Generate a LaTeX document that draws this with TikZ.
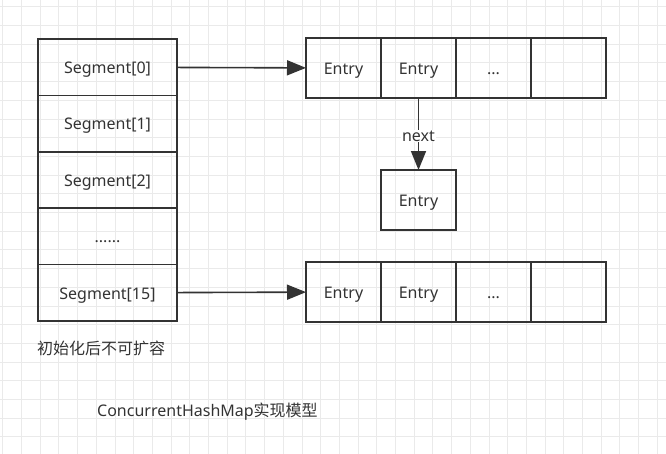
\documentclass[tikz,border=0pt]{standalone}
\usepackage{fontspec}
\setmainfont{Noto Sans}
\newfontfamily\cjk{Noto Sans CJK SC}
\usetikzlibrary{arrows.meta}

\definecolor{inkgray}{HTML}{333333}
\definecolor{gridgray}{HTML}{EAEAEA}

\tikzset{
    cell/.style={draw=inkgray, line width=1.6pt, inner sep=0pt, outer sep=0pt,
        text=inkgray, text height=12.5pt, text depth=0pt, font=\fontsize{16}{19}\selectfont},
    segcell/.style={cell, minimum width=139pt, minimum height=56.4pt},
    entrycell/.style={cell, minimum width=75pt, minimum height=60pt},
    link/.style={draw=inkgray, line width=1.6pt, -{Triangle[length=19pt,width=15pt]}},
    caption/.style={text=inkgray, inner sep=0pt, anchor=west, font=\fontsize{16}{19}\selectfont}
}

\begin{document}
\begin{tikzpicture}[x=1pt, y=-1pt]
    \useasboundingbox (0,0) rectangle (666,453);

    % background grid
    \begin{scope}
        \clip (0,0) rectangle (666,453);
        \draw[gridgray, line width=0.8pt, shift={(2.7pt,-6.7pt)}] (-20,-20) grid[step=18.7pt] (690,480);
    \end{scope}

    % segments
    \node (seg0) [segcell] at (107.5,67.2) {Segment[0]};
    \node (seg1) [segcell] at (107.5,123.6) {Segment[1]};
    \node (seg2) [segcell] at (107.5,180) {Segment[2]};
    \node (segdots) [segcell] at (107.5,236.4) {......};
    \node (seg15) [segcell] at (107.5,292.8) {Segment[15]};

    % entries of segment 0
    \node (e00) [entrycell] at (343.5,68) {Entry};
    \node (e01) [entrycell] at (418.5,68) {Entry};
    \node (e02) [entrycell] at (493.5,68) {...};
    \node (e03) [entrycell] at (568.5,68) {};
    \node (enext) [entrycell] at (418.5,200) {Entry};

    % entries of segment 15
    \node (e10) [entrycell] at (343.5,292) {Entry};
    \node (e11) [entrycell] at (418.5,292) {Entry};
    \node (e12) [entrycell] at (493.5,292) {...};
    \node (e13) [entrycell] at (568.5,292) {};

    % edges
    \draw[link] (seg0) -- (e00);
    \draw[link] (seg15) -- (e10);
    \draw[link] (e01) -- node[fill=white, text=inkgray, inner sep=1pt, yshift=-2pt,
        font=\fontsize{16}{19}\selectfont] {next} (enext);

    % labels
    \node (fixed) [caption] at (37,348) {\cjk 初始化后不可扩容};
    \node (title) [caption] at (97,412) {ConcurrentHashMap{\cjk 实现模型}};
\end{tikzpicture}
\end{document}
